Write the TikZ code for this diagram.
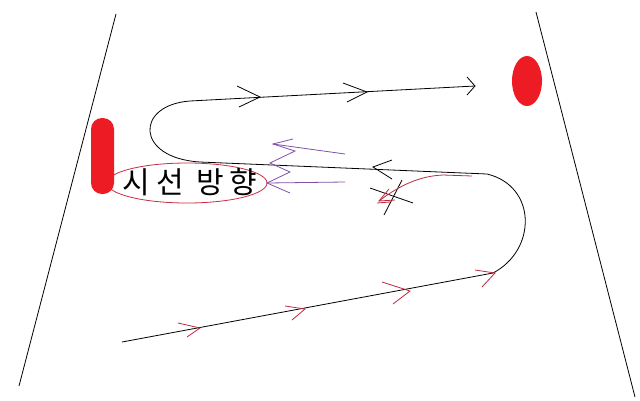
\documentclass[tikz,border=0pt]{standalone}
\usepackage{fontspec}
\newfontfamily\krfont[LetterSpace=20]{Noto Sans CJK KR}
\definecolor{blobred}{RGB}{237,28,36}
\definecolor{arrred}{RGB}{190,40,60}
\definecolor{ellred}{RGB}{200,45,70}
\definecolor{lilac}{RGB}{130,80,170}
\tikzset{
  pathline/.style={draw=black, line width=0.8pt},
  blackhead/.style={draw=black, line width=0.8pt},
  redhead/.style={draw=arrred, line width=0.8pt},
  purplehead/.style={draw=lilac, line width=0.8pt},
  sideline/.style={draw=black, line width=0.8pt},
  blob/.style={fill=blobred, draw=none}
}
\begin{document}
\begin{tikzpicture}[x=1pt,y=-1pt]
\useasboundingbox[fill=white] (0,0) rectangle (640,400);
% side lines
\coordinate (l1) at (116,14); \coordinate (l2) at (19,386);
\coordinate (r1) at (536,12); \coordinate (r2) at (635,397);
\draw[sideline] (l1) -- (l2);
\draw[sideline] (r1) -- (r2);
% main path
\coordinate (p0) at (122,342);
\coordinate (p1) at (493,273);
\coordinate (p2) at (487,174);
\coordinate (p3) at (200,162);
\coordinate (p4) at (190,101);
\coordinate (p5) at (475,86);
\draw[pathline] (p0) -- (p1) .. controls (537,250) and (537,186) .. (p2)
  -- (p3) .. controls (135,158) and (135,105) .. (p4) -- (p5);
% ellipse with text
\draw[ellred, line width=0.8pt] (187,183) ellipse [x radius=80, y radius=20];
\node[font=\krfont\fontsize{30}{30}\selectfont, inner sep=0pt, anchor=center] (txt) at (190,182) {시선 방향};
% red blobs
\fill[blob, rounded corners=11pt] (91,118) rectangle (114,194);
\fill[blob] (527,81) ellipse [x radius=15, y radius=25];
% black arrowheads on top line
\draw[blackhead] (237,86) -- (260,97) -- (239,107);
\draw[blackhead] (343,83) -- (367,92) -- (347,102);
\draw[blackhead] (467,77) -- (475,86) -- (467,95);
% black arrowhead on middle line (pointing left)
\draw[blackhead] (392,160) -- (373,167) -- (392,179);
% black cross
\draw[blackhead] (370,188) -- (413,203);
\draw[blackhead] (402,180) -- (384,215);
% red curved arrow
\draw[redhead] (472,176) -- (443,175) .. controls (420,176) and (400,185) .. (379,201);
\draw[redhead] (389,189) -- (379,201) -- (395,200);
\draw[redhead] (377,203) -- (390,202);
% red arrowheads on bottom line
\draw[redhead] (178,323) -- (200,328) -- (187,337);
\draw[redhead] (285,306) -- (305,309) -- (292,320);
\draw[redhead] (382,282) -- (410,291) -- (393,304);
\draw[redhead] (475,270) -- (495,273) -- (482,287);
% purple arrows
\draw[purplehead] (273,144) -- (345,154);
\draw[purplehead] (267,183) -- (345,182);
\draw[purplehead] (293,139) -- (273,144) -- (295,151) -- (270,163) -- (290,172) -- (267,183) -- (290,193);
\end{tikzpicture}
\end{document}
